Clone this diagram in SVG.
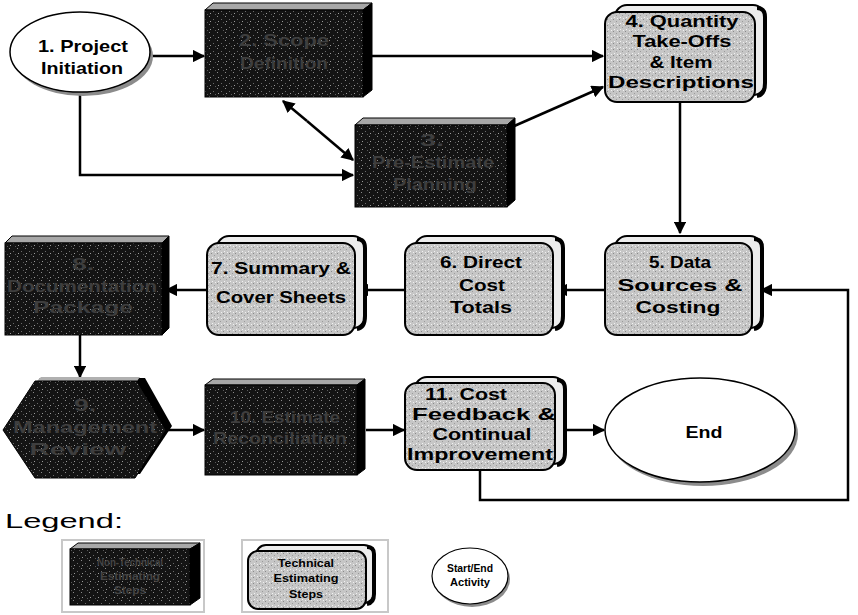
<svg xmlns="http://www.w3.org/2000/svg" width="858" height="615" viewBox="0 0 858 615">
<defs>
<pattern id="dk" width="8" height="8" patternUnits="userSpaceOnUse">
<rect width="8" height="8" fill="#141414"/>
<rect x="1" y="0" width="1" height="1" fill="#8a8a8a"/>
<rect x="5" y="3" width="1" height="1" fill="#6a6a6a"/>
<rect x="2" y="5" width="1" height="1" fill="#9a9a9a"/>
<rect x="7" y="6" width="1" height="1" fill="#5a5a5a"/>
</pattern>
<pattern id="lt" width="6" height="6" patternUnits="userSpaceOnUse">
<rect width="6" height="6" fill="#c6c6c6"/>
<rect x="1" y="1" width="1" height="1" fill="#8a8a8a"/>
<rect x="4" y="3" width="1" height="1" fill="#9a9a9a"/>
<rect x="2" y="5" width="1" height="1" fill="#f2f2f2"/>
<rect x="5" y="0" width="1" height="1" fill="#f0f0f0"/>
</pattern>
<marker id="ah" viewBox="0 0 10 10" refX="9" refY="5" markerWidth="5" markerHeight="5" orient="auto-start-reverse" markerUnits="strokeWidth">
<path d="M0,0 L10,5 L0,10 Z" fill="#000"/>
</marker>
<style>
.t{font-family:"Liberation Sans",Arial,sans-serif;font-weight:bold;font-size:17px;text-anchor:middle;fill:#000}
.d{font-family:"Liberation Sans",Arial,sans-serif;font-weight:bold;font-size:17px;text-anchor:middle;fill:#3e3e3e}
.s{font-family:"Liberation Sans",Arial,sans-serif;font-weight:bold;font-size:10px;text-anchor:middle;fill:#000}
.sd{font-family:"Liberation Sans",Arial,sans-serif;font-weight:bold;font-size:10px;text-anchor:middle;fill:#444}
.front{fill:url(#dk);stroke:#000;stroke-width:1}
.top{fill:#a8a8a8;stroke:#000;stroke-width:1}
.side{fill:#000;stroke:#000;stroke-width:1}
.lf{fill:url(#lt);stroke:#000;stroke-width:2}
.lb{fill:#ececec;stroke:#000;stroke-width:2}
.ls{fill:none;stroke:#000;stroke-width:4}
.ca{fill:none;stroke:#000;stroke-width:2.5;marker-end:url(#ah)}
</style>
</defs>

<g id="connectors">
<line class="ca" x1="150" y1="56" x2="204" y2="56"/>
<line class="ca" x1="372" y1="56" x2="603" y2="56"/>
<polyline class="ca" points="80,93 80,175 353,175"/>
<line class="ca" x1="307" y1="121" x2="283" y2="101"/>
<line class="ca" x1="307" y1="121" x2="353" y2="160"/>
<line class="ca" x1="512" y1="127" x2="603" y2="87"/>
<line class="ca" x1="680" y1="103" x2="680" y2="233"/>
<line class="ca" x1="605" y1="290" x2="556" y2="290"/>
<line class="ca" x1="405" y1="290" x2="357" y2="290"/>
<line class="ca" x1="207" y1="290" x2="166" y2="290"/>
<line class="ca" x1="80" y1="335" x2="80" y2="377"/>
<line class="ca" x1="168" y1="430" x2="204" y2="430"/>
<line class="ca" x1="366" y1="430" x2="404" y2="430"/>
<line class="ca" x1="555" y1="430" x2="604" y2="430"/>
<polyline class="ca" points="480,470 480,500 848,500 848,290 761,290"/>
</g>

<g id="n1">
<ellipse cx="83" cy="56" rx="70" ry="40" fill="#8c8c8c"/>
<ellipse cx="80" cy="52" rx="70" ry="40" fill="#fff" stroke="#000" stroke-width="1.5"/>
<text class="t" x="83" y="52" textLength="90" lengthAdjust="spacingAndGlyphs">1. Project</text>
<text class="t" x="82" y="74" textLength="82" lengthAdjust="spacingAndGlyphs">Initiation</text>
</g>

<g id="n2">
<polygon class="top" points="205,10 213,3 372,3 363,10"/>
<polygon class="side" points="363,10 372,3 372,90 363,97"/>
<rect class="front" x="205" y="10" width="158" height="87"/>
<text class="d" x="284" y="46" textLength="90" lengthAdjust="spacingAndGlyphs">2. Scope</text>
<text class="d" x="284" y="69" textLength="88" lengthAdjust="spacingAndGlyphs">Definition</text>
</g>

<g id="n3">
<polygon class="top" points="355,125 363,118 515,118 507,125"/>
<polygon class="side" points="507,125 515,118 515,200 507,207"/>
<rect class="front" x="355" y="125" width="152" height="82"/>
<text class="d" x="432" y="146" textLength="24" lengthAdjust="spacingAndGlyphs">3.</text>
<text class="d" x="433" y="168" textLength="122" lengthAdjust="spacingAndGlyphs">Pre-Estimate</text>
<text class="d" x="435" y="190" textLength="84" lengthAdjust="spacingAndGlyphs">Planning</text>
</g>

<g id="n4">
<rect class="lb" x="615" y="5" width="150" height="90" rx="12"/>
<path class="ls" d="M757,8 Q765,8 765,17 L765,83 Q765,95 757,96"/>
<rect class="lf" x="605" y="12" width="150" height="90" rx="12"/>
<text class="t" x="682" y="27" textLength="113" lengthAdjust="spacingAndGlyphs">4. Quantity</text>
<text class="t" x="682" y="47" textLength="99" lengthAdjust="spacingAndGlyphs">Take-Offs</text>
<text class="t" x="681" y="68" textLength="63" lengthAdjust="spacingAndGlyphs">&amp; Item</text>
<text class="t" x="681" y="88" textLength="146" lengthAdjust="spacingAndGlyphs">Descriptions</text>
</g>

<g id="n5">
<rect class="lb" x="615" y="236" width="147" height="92" rx="12"/>
<path class="ls" d="M754,239 Q762,239 762,248 L762,316 Q762,328 754,329"/>
<rect class="lf" x="605" y="243" width="147" height="92" rx="12"/>
<text class="t" x="680" y="268" textLength="62" lengthAdjust="spacingAndGlyphs">5. Data</text>
<text class="t" x="680" y="291" textLength="125" lengthAdjust="spacingAndGlyphs">Sources &amp;</text>
<text class="t" x="678" y="313" textLength="85" lengthAdjust="spacingAndGlyphs">Costing</text>
</g>

<g id="n6">
<rect class="lb" x="415" y="236" width="148" height="92" rx="12"/>
<path class="ls" d="M555,239 Q563,239 563,248 L563,316 Q563,328 555,329"/>
<rect class="lf" x="405" y="243" width="148" height="92" rx="12"/>
<text class="t" x="481" y="268" textLength="82" lengthAdjust="spacingAndGlyphs">6. Direct</text>
<text class="t" x="482" y="291" textLength="46" lengthAdjust="spacingAndGlyphs">Cost</text>
<text class="t" x="481" y="313" textLength="62" lengthAdjust="spacingAndGlyphs">Totals</text>
</g>

<g id="n7">
<rect class="lb" x="217" y="236" width="148" height="92" rx="12"/>
<path class="ls" d="M357,239 Q365,239 365,248 L365,316 Q365,328 357,329"/>
<rect class="lf" x="207" y="243" width="148" height="92" rx="12"/>
<text class="t" x="281" y="274" textLength="140" lengthAdjust="spacingAndGlyphs">7. Summary &amp;</text>
<text class="t" x="281" y="303" textLength="130" lengthAdjust="spacingAndGlyphs">Cover Sheets</text>
</g>

<g id="n8">
<polygon class="top" points="5,243 12,236 169,236 162,243"/>
<polygon class="side" points="162,243 169,236 169,328 162,335"/>
<rect class="front" x="5" y="243" width="157" height="92"/>
<text class="d" x="83" y="270" textLength="22" lengthAdjust="spacingAndGlyphs">8.</text>
<text class="d" x="82" y="292" textLength="150" lengthAdjust="spacingAndGlyphs">Documentation</text>
<text class="d" x="83" y="313" textLength="100" lengthAdjust="spacingAndGlyphs">Package</text>
</g>

<g id="n9">
<polygon fill="#000" points="8,426 40,378 145,378 172,426 140,474 40,474"/>
<polygon fill="#b0b0b0" points="37,381 41,377 140,377 137,381"/>
<polygon class="front" points="3,430 35,381 137,381 166,430 135,478 35,478"/>
<text class="d" x="85" y="411" textLength="22" lengthAdjust="spacingAndGlyphs">9.</text>
<text class="d" x="85" y="433" textLength="144" lengthAdjust="spacingAndGlyphs">Management</text>
<text class="d" x="78" y="455" textLength="97" lengthAdjust="spacingAndGlyphs">Review</text>
</g>

<g id="n10">
<polygon class="top" points="205,385 213,379 365,379 357,385"/>
<polygon class="side" points="357,385 365,379 365,469 357,475"/>
<rect class="front" x="205" y="385" width="152" height="90"/>
<text class="d" x="285" y="423" textLength="110" lengthAdjust="spacingAndGlyphs">10. Estimate</text>
<text class="d" x="280" y="444" textLength="134" lengthAdjust="spacingAndGlyphs">Reconciliation</text>
</g>

<g id="n11">
<rect class="lb" x="415" y="377" width="150" height="87" rx="12"/>
<path class="ls" d="M557,380 Q565,380 565,389 L565,452 Q565,464 557,465"/>
<rect class="lf" x="405" y="383" width="150" height="87" rx="12"/>
<text class="t" x="466" y="400" textLength="82" lengthAdjust="spacingAndGlyphs">11. Cost</text>
<text class="t" x="484" y="420" textLength="144" lengthAdjust="spacingAndGlyphs">Feedback &amp;</text>
<text class="t" x="482" y="440" textLength="99" lengthAdjust="spacingAndGlyphs">Continual</text>
<text class="t" x="480" y="460" textLength="146" lengthAdjust="spacingAndGlyphs">Improvement</text>
</g>

<g id="end">
<ellipse cx="703" cy="434" rx="95" ry="52" fill="#8c8c8c"/>
<ellipse cx="700" cy="430" rx="95" ry="52" fill="#fff" stroke="#000" stroke-width="1.5"/>
<text class="t" x="704" y="438" textLength="37" lengthAdjust="spacingAndGlyphs">End</text>
</g>

<g id="legend">
<text x="5" y="528" font-family="'Liberation Sans',Arial,sans-serif" font-size="21" fill="#000" textLength="118" lengthAdjust="spacingAndGlyphs">Legend:</text>
<rect x="62" y="540" width="142" height="72" fill="none" stroke="#c8c8c8" stroke-width="2"/>
<polygon class="top" points="70,549 78,543 200,543 190,549"/>
<polygon class="side" points="190,549 200,543 200,598 190,605"/>
<rect class="front" x="70" y="549" width="120" height="56"/>
<text class="sd" x="130" y="566" textLength="66" lengthAdjust="spacingAndGlyphs">Non-Technical</text>
<text class="sd" x="130" y="580" textLength="60" lengthAdjust="spacingAndGlyphs">Estimating</text>
<text class="sd" x="130" y="594" textLength="32" lengthAdjust="spacingAndGlyphs">Steps</text>
<rect x="242" y="540" width="146" height="72" fill="none" stroke="#c8c8c8" stroke-width="2"/>
<rect class="lb" x="256" y="545" width="118" height="58" rx="10"/>
<path class="ls" d="M367,547 Q374,547 374,554 L374,594 Q374,603 367,604"/>
<rect class="lf" x="248" y="551" width="118" height="58" rx="10"/>
<text class="s" x="306" y="567" textLength="56" lengthAdjust="spacingAndGlyphs">Technical</text>
<text class="s" x="306" y="582" textLength="65" lengthAdjust="spacingAndGlyphs">Estimating</text>
<text class="s" x="306" y="598" textLength="34" lengthAdjust="spacingAndGlyphs">Steps</text>
<ellipse cx="472" cy="579" rx="38" ry="28" fill="#8c8c8c"/>
<ellipse cx="470" cy="576" rx="38" ry="28" fill="#fff" stroke="#000" stroke-width="1.2"/>
<text class="s" x="470" y="572" font-size="9" textLength="46" lengthAdjust="spacingAndGlyphs">Start/End</text>
<text class="s" x="470" y="586" font-size="9" textLength="40" lengthAdjust="spacingAndGlyphs">Activity</text>
</g>
</svg>
